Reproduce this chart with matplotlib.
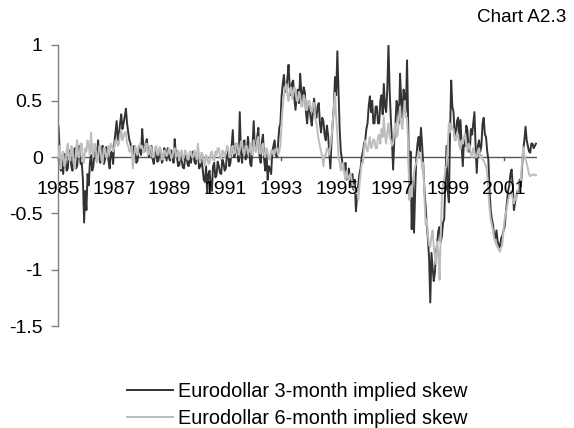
import matplotlib
matplotlib.use("Agg")
import matplotlib.pyplot as plt
import numpy as np

plt.rcParams['font.family'] = ['Liberation Sans', 'DejaVu Sans']

# Twice-monthly observations, January 1985 to February 2002
start_year = 1985.02
skew_3m = [
    # 1985
    0.27, 0.05, -0.12, -0.02, -0.15, 0.03, 0.00, -0.12, -0.10, 0.06, 0.05, -0.08,
    -0.12, 0.02, 0.08, -0.10, -0.08, 0.04, 0.10, -0.06, -0.05, -0.20, -0.58, -0.30,
    # 1986
    -0.47, -0.15, -0.25, -0.05, 0.02, -0.12, -0.08, 0.06, 0.08, -0.04, 0.15, 0.00,
    -0.05, 0.08, 0.10, -0.06, -0.02, 0.09, 0.06, -0.03, -0.10, 0.04, 0.05, -0.06,
    # 1987
    0.12, 0.22, 0.32, 0.15, 0.20, 0.30, 0.38, 0.25, 0.30, 0.36, 0.43, 0.30,
    0.22, 0.15, 0.12, 0.05, 0.02, 0.10, 0.08, -0.05, -0.03, 0.06, 0.10, 0.02,
    # 1988
    0.25, 0.10, 0.05, 0.12, 0.16, 0.04, 0.00, 0.09, 0.10, -0.02, -0.06, 0.05,
    0.08, -0.04, -0.03, 0.07, 0.06, -0.05, -0.02, 0.08, 0.05, -0.03, 0.08, 0.00,
    # 1989
    -0.03, 0.06, 0.04, -0.05, 0.16, 0.02, 0.00, -0.08, -0.07, 0.03, -0.03, -0.09,
    -0.10, 0.00, 0.02, -0.06, -0.08, 0.01, -0.05, 0.04, 0.05, -0.04, -0.06, 0.02,
    # 1990
    0.05, -0.10, -0.08, -0.02, -0.10, -0.20, -0.22, -0.08, -0.32, -0.15, -0.12, -0.25,
    -0.30, -0.08, -0.05, -0.18, -0.16, -0.04, -0.08, -0.14, -0.15, -0.02, -0.05, -0.12,
    # 1991
    -0.10, 0.02, 0.05, -0.08, -0.05, 0.10, 0.24, 0.00, 0.02, 0.12, 0.08, -0.04,
    0.40, 0.05, -0.05, 0.12, 0.15, -0.02, 0.00, 0.18, 0.10, -0.06, -0.08, 0.10,
    # 1992
    0.32, 0.08, 0.05, 0.18, 0.26, 0.02, -0.05, 0.14, 0.20, -0.02, -0.12, 0.05,
    -0.20, -0.08, -0.10, -0.15, 0.05, 0.10, 0.15, 0.02, 0.00, 0.12, 0.26, 0.30,
    # 1993
    0.54, 0.65, 0.73, 0.58, 0.60, 0.70, 0.82, 0.62, 0.55, 0.66, 0.68, 0.52,
    0.42, 0.55, 0.60, 0.48, 0.74, 0.58, 0.50, 0.62, 0.58, 0.40, 0.30, 0.45,
    # 1994
    0.45, 0.35, 0.28, 0.42, 0.52, 0.38, 0.35, 0.45, 0.48, 0.30, 0.22, 0.35,
    0.32, 0.20, 0.15, 0.28, 0.20, 0.05, -0.10, 0.15, 0.30, 0.45, 0.71, 0.55,
    # 1995
    0.94, 0.60, 0.25, 0.05, -0.02, -0.10, -0.12, -0.05, -0.20, -0.15, -0.10, -0.22,
    -0.25, -0.15, -0.29, -0.20, -0.48, -0.35, -0.25, -0.15, -0.10, 0.00, 0.05, 0.12,
    # 1996
    0.15, 0.25, 0.30, 0.45, 0.54, 0.40, 0.50, 0.30, 0.30, 0.45, 0.45, 0.30,
    0.30, 0.50, 0.55, 0.38, 0.65, 0.45, 0.40, 0.60, 1.00, 0.60, 0.35, 0.15,
    # 1997
    -0.11, 0.15, 0.30, 0.50, 0.45, 0.30, 0.74, 0.50, 0.35, 0.60, 0.55, 0.40,
    0.86, 0.30, -0.35, 0.05, -0.64, -0.20, -0.67, -0.30, 0.00, 0.12, 0.18, 0.05,
    # 1998
    0.26, 0.10, -0.08, -0.30, -0.44, -0.60, -0.73, -0.90, -1.29, -0.85, -0.97, -1.10,
    -1.02, -0.85, -0.75, -0.65, -0.62, -0.75, -0.70, -0.58, -0.55, -0.20, 0.10, -0.30,
    # 1999
    -0.40, 0.20, 0.68, 0.45, 0.40, 0.20, 0.20, 0.32, 0.35, 0.15, 0.33, 0.10,
    -0.08, 0.15, 0.10, 0.28, 0.24, 0.05, 0.05, 0.25, 0.20, 0.30, 0.40, 0.10,
    # 2000
    -0.14, 0.10, 0.15, 0.05, 0.10, 0.30, 0.35, 0.20, 0.18, 0.05, -0.02, -0.30,
    -0.47, -0.55, -0.60, -0.70, -0.72, -0.65, -0.75, -0.78, -0.80, -0.72, -0.70, -0.65,
    # 2001
    -0.62, -0.50, -0.40, -0.30, -0.25, -0.15, -0.11, -0.25, -0.47, -0.40, -0.35, -0.30,
    -0.30, -0.20, -0.26, -0.10, 0.07, 0.15, 0.27, 0.15, 0.10, 0.05, 0.04, 0.12,
    # 2002
    0.12, 0.08, 0.10, 0.12,
]
skew_6m = [
    # 1985
    0.00, 0.10, -0.10, 0.02, 0.05, -0.08, -0.05, 0.06, 0.12, -0.02, -0.03, 0.10,
    0.08, -0.05, -0.10, 0.05, 0.15, 0.00, 0.00, 0.12, 0.12, -0.02, -0.05, 0.08,
    # 1986
    0.05, 0.15, 0.10, 0.02, 0.22, 0.05, 0.00, 0.12, 0.08, -0.04, -0.02, 0.10,
    0.10, -0.03, -0.05, 0.08, 0.08, 0.00, 0.00, 0.10, 0.05, 0.12, 0.10, 0.05,
    # 1987
    0.08, 0.15, 0.15, 0.10, 0.12, 0.20, 0.24, 0.15, 0.18, 0.22, 0.22, 0.12,
    0.10, 0.05, 0.05, 0.10, -0.10, 0.00, 0.10, 0.05, 0.02, 0.10, 0.12, 0.08,
    # 1988
    0.10, 0.04, 0.06, 0.12, 0.12, 0.02, 0.03, 0.10, 0.08, 0.00, 0.00, 0.08,
    0.10, 0.02, 0.02, 0.09, 0.07, -0.02, -0.02, 0.06, 0.05, 0.01, 0.03, 0.08,
    # 1989
    0.05, -0.01, 0.00, 0.07, 0.08, 0.00, 0.02, 0.06, -0.03, 0.04, 0.06, -0.02,
    0.00, 0.06, 0.04, -0.02, -0.02, 0.05, 0.05, 0.00, 0.00, 0.06, 0.03, -0.02,
    # 1990
    0.12, 0.00, -0.05, 0.04, 0.03, -0.04, -0.08, 0.02, 0.00, -0.06, -0.05, 0.04,
    0.05, -0.02, -0.03, 0.05, 0.02, 0.08, 0.08, 0.00, -0.02, 0.06, 0.05, 0.00,
    # 1991
    0.03, 0.10, 0.08, 0.00, 0.00, 0.08, 0.10, 0.03, 0.04, 0.12, 0.12, 0.02,
    0.06, 0.14, 0.14, 0.04, 0.02, 0.10, 0.10, 0.03, 0.05, 0.12, 0.08, 0.02,
    # 1992
    0.15, 0.06, 0.05, 0.15, 0.18, 0.04, 0.03, 0.10, 0.12, 0.02, 0.00, 0.08,
    0.05, -0.02, -0.02, 0.06, 0.06, 0.02, 0.03, 0.07, 0.08, 0.02, 0.05, 0.10,
    # 1993
    0.30, 0.45, 0.55, 0.62, 0.65, 0.55, 0.50, 0.60, 0.62, 0.52, 0.55, 0.62,
    0.60, 0.50, 0.50, 0.58, 0.55, 0.45, 0.45, 0.55, 0.52, 0.42, 0.42, 0.50,
    # 1994
    0.50, 0.42, 0.40, 0.48, 0.48, 0.35, 0.30, 0.22, 0.15, 0.10, 0.05, 0.00,
    -0.08, 0.02, 0.02, 0.08, 0.07, 0.02, 0.10, 0.18, 0.30, 0.45, 0.57, 0.35,
    # 1995
    0.20, 0.00, -0.05, -0.12, -0.10, -0.05, -0.15, -0.20, -0.12, -0.18, -0.20, -0.15,
    -0.18, -0.25, -0.25, -0.30, -0.32, -0.28, -0.38, -0.25, -0.15, -0.05, -0.05, 0.08,
    # 1996
    0.15, 0.08, 0.05, 0.12, 0.18, 0.08, 0.10, 0.16, 0.15, 0.08, 0.08, 0.18,
    0.20, 0.12, 0.25, 0.18, 0.36, 0.20, 0.12, 0.22, 0.30, 0.18, 0.15, 0.10,
    # 1997
    0.12, 0.22, 0.30, 0.18, 0.20, 0.35, 0.45, 0.30, 0.25, 0.40, 0.50, 0.35,
    0.35, 0.10, -0.38, -0.25, -0.35, -0.20, -0.14, -0.08, -0.05, 0.00, 0.05, 0.02,
    # 1998
    0.00, -0.10, -0.05, -0.35, -0.60, -0.55, -0.70, -0.78, -0.80, -0.70, -0.65, -0.80,
    -0.88, -0.95, -0.75, -0.85, -1.09, -0.70, -0.35, -0.25, -0.20, -0.10, -0.08, 0.10,
    # 1999
    0.30, 0.22, 0.30, 0.25, 0.25, 0.15, 0.15, 0.22, 0.20, 0.10, 0.07, 0.15,
    0.12, 0.18, 0.21, 0.10, 0.05, 0.12, 0.10, 0.02, 0.00, 0.08, 0.05, 0.00,
    # 2000
    0.00, 0.06, 0.08, 0.00, 0.02, -0.02, -0.03, -0.06, -0.08, -0.15, -0.30, -0.45,
    -0.55, -0.60, -0.65, -0.72, -0.75, -0.78, -0.80, -0.82, -0.84, -0.80, -0.78, -0.65,
    # 2001
    -0.55, -0.50, -0.45, -0.38, -0.35, -0.32, -0.30, -0.38, -0.41, -0.35, -0.38, -0.30,
    -0.29, -0.22, -0.20, -0.05, 0.09, 0.02, -0.02, -0.05, -0.10, -0.15, -0.17, -0.16,
    # 2002
    -0.16, -0.15, -0.16, -0.16,
]
year_labels = ['1985', '1987', '1989', '1991', '1993', '1995', '1997', '1999', '2001']
y_ticks = [-1.5, -1, -0.5, 0, 0.5, 1]
y_tick_labels = ['-1.5', '-1', '-0.5', '0', '0.5', '1']
series_names = ['Eurodollar 3-month implied skew', 'Eurodollar 6-month implied skew']

t3 = start_year + np.arange(len(skew_3m)) / 24.0
t6 = start_year + np.arange(len(skew_6m)) / 24.0

FS = 14

fig = plt.figure(figsize=(5.74, 4.28), dpi=100)
ax = fig.add_axes([0.101, 0.238, 0.834, 0.658])

ax.axhline(0, color='#555555', lw=1.0, zorder=1)
l3, = ax.plot(t3, skew_3m, color='#333333', lw=1.4, zorder=2, label=series_names[0])
l6, = ax.plot(t6, skew_6m, color='#BDBDBD', lw=1.4, zorder=3, label=series_names[1])

ax.set_xlim(1985.0, 2002.17)
ax.set_ylim(-1.5, 1.0)

for s in ['top', 'right', 'bottom']:
    ax.spines[s].set_visible(False)
ax.spines['left'].set_color('#808080')
ax.spines['left'].set_linewidth(1.0)

ax.set_yticks(y_ticks)
ax.set_yticklabels(y_tick_labels)
ax.tick_params(axis='y', direction='out', length=5, width=1.0, color='#808080',
               pad=6, labelsize=FS)

# Year labels sit just under the zero line
ax.set_xticks([])
for lab in year_labels:
    ax.annotate(lab, xy=(int(lab), 0), xycoords='data', xytext=(0, -26.5),
                textcoords='offset points', ha='center', va='baseline', fontsize=FS)
for yr in [1985, 1993, 2001]:
    ax.plot([yr, yr], [0, -0.025], color='#555555', lw=1.0, zorder=1,
            clip_on=False)

fig.text(0.986, 0.948, 'Chart A2.3', ha='right', va='baseline', fontsize=13.6)

fig.legend(handles=[l3, l6], loc='upper left', bbox_to_anchor=(0.221, 0.108),
           frameon=False, fontsize=FS + 0.3, handlelength=2.3, handletextpad=0.3,
           labelspacing=0.42, borderaxespad=0, borderpad=0)

fig.savefig('out.png', dpi=100)
